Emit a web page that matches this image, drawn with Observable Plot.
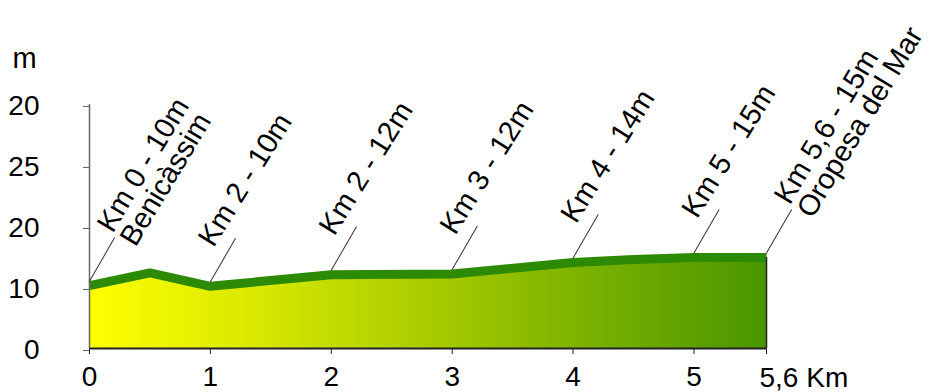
<!DOCTYPE html>
<html>
<head>
<meta charset="utf-8">
<script src="https://cdn.jsdelivr.net/npm/d3@7"></script>
<script src="https://cdn.jsdelivr.net/npm/@observablehq/plot@0.6"></script>
<style>
  html, body { margin: 0; padding: 0; background: #fff; }
</style>
</head>
<body>
<div id="chart"></div>
<script>
// Elevation profile (km, metres)
const profileKm = [0, 0.5, 1, 2, 3, 4, 4.5, 5, 5.6];
const profileM  = [10.3, 12.4, 10.2, 12.1, 12.2, 14.1, 14.6, 14.9, 14.9];

// Annotations
const labelKm   = [0, 1, 2, 3, 4, 5, 5.6];
const labelText = [
  "Km 0 - 10m\nBenicàssim",
  "Km 2 - 10m",
  "Km 2 - 12m",
  "Km 3 - 12m",
  "Km 4 - 14m",
  "Km 5 - 15m",
  "Km 5,6 - 15m\nOropesa del Mar"
];

// Axis ticks
const xTicks = [0, 1, 2, 3, 4, 5, 5.6];
const xTickLabels = ["0", "1", "2", "3", "4", "5", ""];
const xEndLabel = "5,6 Km";
const yTicks = [0, 10, 20, 30, 40];
const yTickLabels = ["0", "10", "20", "25", "20"];
const yUnit = "m";

const profile = profileKm.map((km, i) => ({km, m: profileM[i]}));
const labels = labelKm.map((km, i) => ({km, m: profileM[profileKm.indexOf(km)], text: labelText[i]}));
const single = labels.filter(d => !d.text.includes("\n"));
const double = labels.filter(d => d.text.includes("\n"));
const last = profile[profile.length - 1];

const font = "Arial, 'Liberation Sans', Helvetica, sans-serif";
const leader = {draw(ctx, l) { ctx.moveTo(0, 0); ctx.lineTo(0, -l); }};

const gradient = () => {
  const defs = d3.create("svg:defs");
  const g = defs.append("linearGradient").attr("id", "profileFill")
    .attr("x1", 0).attr("x2", 1).attr("y1", 0).attr("y2", 0);
  [["0%", "#ffff00"], ["25%", "#d8e800"], ["50%", "#a8cc00"], ["75%", "#78b000"], ["100%", "#4a9600"]]
    .forEach(([o, c]) => g.append("stop").attr("offset", o).attr("stop-color", c));
  return defs.node();
};

const chart = Plot.plot({
  width: 931,
  height: 392,
  marginLeft: 89,
  marginRight: 165,
  marginTop: 104,
  marginBottom: 44,
  style: {fontFamily: font, background: "#fff", color: "#000", overflow: "visible"},
  x: {domain: [0, 5.6]},
  y: {domain: [0, 40]},
  marks: [
    gradient,
    Plot.areaY(profile, {x: "km", y: "m", fill: "url(#profileFill)"}),
    Plot.line(profile, {x: "km", y: "m", stroke: "#2d8a05", strokeWidth: 9, strokeLinecap: "butt", strokeLinejoin: "miter"}),
    Plot.ruleY([0], {x1: 0, x2: last.km, stroke: "#222", strokeWidth: 2}),
    Plot.ruleX([last], {x: "km", y1: 0, y2: "m", stroke: "#222", strokeWidth: 1.5}),
    Plot.ruleX([0], {stroke: "#666", strokeWidth: 1.5}),
    Plot.axisY({ticks: yTicks, tickFormat: (d, i) => yTickLabels[i], tickSize: 6, tickPadding: 44,
      fontSize: 28, stroke: "#666", fill: "#000", dy: 2, label: null}),
    Plot.axisX({ticks: xTicks, tickFormat: (d, i) => xTickLabels[i], tickSize: 6, tickPadding: 12,
      fontSize: 28, stroke: "#222", fill: "#000", label: null}),
    Plot.text([xEndLabel], {x: () => last.km, y: () => 0, text: d => d, textAnchor: "start", lineAnchor: "bottom",
      dx: -7, dy: 38, fontSize: 28, fill: "#000"}),
    Plot.text([yUnit], {frameAnchor: "top-left", text: d => d, textAnchor: "start", lineAnchor: "bottom",
      dx: -77, dy: -37, fontSize: 29, fill: "#000"}),
    Plot.vector(labels, {x: "km", y: "m", length: 50, rotate: 30, anchor: "start", shape: leader,
      stroke: "#333", strokeWidth: 1, dy: -4.5}),
    Plot.text(single, {x: "km", y: "m", text: "text", rotate: -58, textAnchor: "start", lineAnchor: "bottom",
      dx: 3, dy: -38, fontSize: 29, fill: "#000"}),
    Plot.text(double, {x: "km", y: "m", text: "text", rotate: -59, textAnchor: "start", lineAnchor: "bottom",
      lineHeight: 0.92, dx: 46, dy: -38, fontSize: 29, fill: "#000"})
  ]
});
document.getElementById("chart").appendChild(chart);
</script>
</body>
</html>
